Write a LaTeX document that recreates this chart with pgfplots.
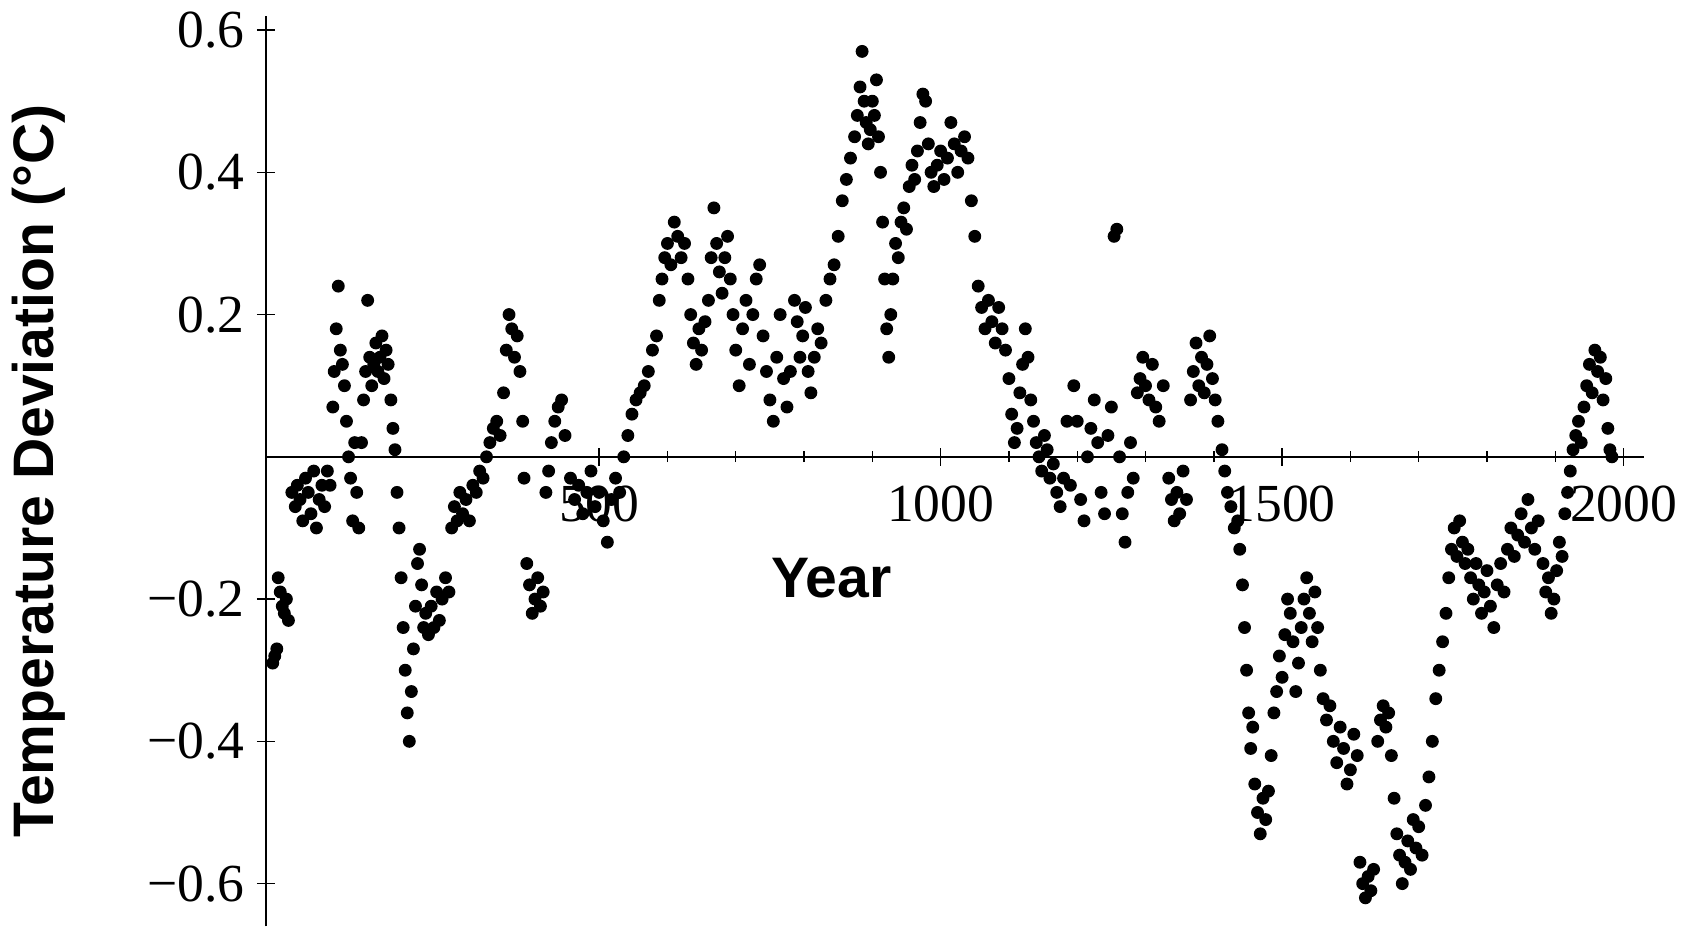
\documentclass[border=0pt]{standalone}
\usepackage{pgfplots}
\pgfplotsset{compat=1.18}
\usepackage{fontspec}
\setmainfont{Liberation Sans}
\newfontfamily\tickfont{Liberation Serif}
\begin{document}
\begin{tikzpicture}
\begin{axis}[
 scale only axis, width=386pt, height=255pt,
 xmin=12, xmax=2030, ymin=-0.66, ymax=0.62,
 axis x line=middle, axis y line=left,
 axis line style={-, thin},
 xtick={500,1000,1500,2000}, ytick={-0.6,-0.4,-0.2,0.2,0.4,0.6},
 xticklabels={500,1000,1500,2000},
 yticklabels={−0.6,−0.4,−0.2,0.2,0.4,0.6},
 /pgf/number format/assume math mode=true,
 minor x tick num=4, minor y tick num=3,
 tick style={black, thin}, major tick length=5pt, minor tick length=3pt,
 tick label style={font=\fontsize{15}{15}\selectfont\tickfont},
 xticklabel style={yshift=-2pt},
 xlabel={\textbf{Year}}, ylabel={\textbf{Temperature Deviation (°C)}},
 label style={font=\fontsize{16}{16}\selectfont},
 x label style={at={(axis cs:840,-0.17)}, anchor=center},
 y label style={at={(axis description cs:-0.165,0.5)}, anchor=center},
 clip=false,
]
\addplot[only marks, mark=*, mark size=1.6pt, black] coordinates {
(22,-0.29)(25,-0.28)(28,-0.27)(30,-0.17)(33,-0.19)(36,-0.21)(39,-0.22)(42,-0.20)(45,-0.23)
(50,-0.05)(55,-0.07)(58,-0.04)(62,-0.06)(66,-0.09)(70,-0.03)(74,-0.05)(78,-0.08)(82,-0.02)(86,-0.10)(90,-0.06)(94,-0.04)(98,-0.07)(102,-0.02)(106,-0.04)
(110,0.07)(112,0.12)(115,0.18)(118,0.24)(121,0.15)(124,0.13)(127,0.10)(130,0.05)(133,0.00)(136,-0.03)(139,-0.09)(142,0.02)(145,-0.05)(148,-0.10)
(152,0.02)(155,0.08)(158,0.12)(161,0.22)(164,0.14)(167,0.10)(170,0.13)(173,0.16)(176,0.12)(179,0.14)(182,0.17)(185,0.11)(188,0.15)(191,0.13)
(195,0.08)(198,0.04)(201,0.01)(204,-0.05)(207,-0.10)(210,-0.17)(213,-0.24)(216,-0.30)(219,-0.36)(222,-0.40)(225,-0.33)
(228,-0.27)(231,-0.21)(234,-0.15)(237,-0.13)(240,-0.18)(243,-0.24)(246,-0.22)(250,-0.25)(254,-0.21)(258,-0.24)(262,-0.19)(266,-0.23)(270,-0.20)(275,-0.17)(280,-0.19)
(284,-0.10)(288,-0.07)(292,-0.09)(296,-0.05)(300,-0.08)(305,-0.06)(310,-0.09)(315,-0.04)(320,-0.05)(325,-0.02)(330,-0.03)(335,0.00)(340,0.02)(345,0.04)(350,0.05)(355,0.03)
(360,0.09)(364,0.15)(368,0.20)(372,0.18)(376,0.14)(380,0.17)(384,0.12)(388,0.05)(390,-0.03)
(394,-0.15)(398,-0.18)(402,-0.22)(406,-0.20)(410,-0.17)(414,-0.21)(418,-0.19)
(422,-0.05)(426,-0.02)(430,0.02)(435,0.05)(440,0.07)(445,0.08)(450,0.03)
(458,-0.03)(464,-0.06)(470,-0.04)(476,-0.08)(482,-0.05)(488,-0.02)(494,-0.07)(500,-0.05)(506,-0.09)(512,-0.12)(518,-0.06)(524,-0.03)(530,-0.05)
(536,0.00)(542,0.03)(548,0.06)(554,0.08)(560,0.09)(566,0.10)(572,0.12)(578,0.15)(584,0.17)(588,0.22)(592,0.25)(596,0.28)(600,0.30)(605,0.27)(610,0.33)(615,0.31)(620,0.28)(625,0.30)
(630,0.25)(634,0.20)(638,0.16)(642,0.13)(646,0.18)(650,0.15)(655,0.19)
(660,0.22)(664,0.28)(668,0.35)(672,0.30)(676,0.26)(680,0.23)(684,0.28)(688,0.31)(692,0.25)(696,0.20)(700,0.15)
(705,0.10)(710,0.18)(715,0.22)(720,0.13)(725,0.20)(730,0.25)(735,0.27)(740,0.17)(745,0.12)(750,0.08)(755,0.05)(760,0.14)(765,0.20)(770,0.11)(775,0.07)(780,0.12)
(786,0.22)(790,0.19)(794,0.14)(798,0.17)(802,0.21)(806,0.12)(810,0.09)(815,0.14)(820,0.18)(825,0.16)
(832,0.22)(838,0.25)(844,0.27)(850,0.31)(856,0.36)(862,0.39)(868,0.42)(874,0.45)(878,0.48)(882,0.52)(885,0.57)(888,0.50)(891,0.47)(894,0.44)(897,0.46)(900,0.50)(903,0.48)(906,0.53)(909,0.45)
(912,0.40)(915,0.33)(918,0.25)(921,0.18)(924,0.14)(927,0.20)(930,0.25)(934,0.30)(938,0.28)(942,0.33)(946,0.35)(950,0.32)(954,0.38)(958,0.41)(962,0.39)(966,0.43)(970,0.47)(974,0.51)(978,0.50)(982,0.44)(986,0.40)(990,0.38)
(995,0.41)(1000,0.43)(1005,0.39)(1010,0.42)(1015,0.47)(1020,0.44)(1025,0.40)(1030,0.43)(1035,0.45)(1040,0.42)(1045,0.36)(1050,0.31)
(1055,0.24)(1060,0.21)(1065,0.18)(1070,0.22)(1075,0.19)(1080,0.16)(1085,0.21)(1090,0.18)(1095,0.15)
(1100,0.11)(1104,0.06)(1108,0.02)(1112,0.04)(1116,0.09)(1120,0.13)(1124,0.18)(1128,0.14)
(1132,0.08)(1136,0.05)(1140,0.02)(1144,0.00)(1148,-0.02)(1152,0.03)(1156,0.01)(1160,-0.03)(1165,-0.01)(1170,-0.05)
(1175,-0.07)(1180,-0.03)(1185,0.05)(1190,-0.04)(1195,0.10)(1200,0.05)(1205,-0.06)(1210,-0.09)(1215,0.00)(1220,0.04)(1225,0.08)(1230,0.02)(1235,-0.05)(1240,-0.08)(1245,0.03)(1250,0.07)
(1254,0.31)(1258,0.32)(1262,0.00)(1266,-0.08)(1270,-0.12)(1274,-0.05)(1278,0.02)(1282,-0.03)
(1288,0.09)(1292,0.11)(1296,0.14)(1300,0.10)(1305,0.08)(1310,0.13)(1315,0.07)(1320,0.05)(1326,0.10)
(1334,-0.03)(1338,-0.06)(1342,-0.09)(1346,-0.05)(1350,-0.08)(1355,-0.02)(1360,-0.06)
(1366,0.08)(1370,0.12)(1374,0.16)(1378,0.10)(1382,0.14)(1386,0.09)(1390,0.13)(1394,0.17)(1398,0.11)(1402,0.08)(1406,0.05)
(1412,0.01)(1416,-0.02)(1420,-0.05)(1425,-0.07)(1430,-0.10)(1435,-0.09)(1438,-0.13)
(1442,-0.18)(1445,-0.24)(1448,-0.30)(1451,-0.36)(1454,-0.41)(1457,-0.38)
(1460,-0.46)(1464,-0.50)(1468,-0.53)(1472,-0.48)(1476,-0.51)(1480,-0.47)(1484,-0.42)(1488,-0.36)
(1492,-0.33)(1496,-0.28)(1500,-0.31)(1504,-0.25)(1508,-0.20)(1512,-0.22)(1516,-0.26)(1520,-0.33)
(1524,-0.29)(1528,-0.24)(1532,-0.20)(1536,-0.17)(1540,-0.22)(1544,-0.26)(1548,-0.19)(1552,-0.24)(1556,-0.30)(1560,-0.34)(1565,-0.37)
(1570,-0.35)(1575,-0.40)(1580,-0.43)(1585,-0.38)(1590,-0.41)(1595,-0.46)(1600,-0.44)(1605,-0.39)(1610,-0.42)
(1614,-0.57)(1618,-0.60)(1622,-0.62)(1626,-0.59)(1630,-0.61)(1634,-0.58)
(1640,-0.40)(1644,-0.37)(1648,-0.35)(1652,-0.38)(1656,-0.36)(1660,-0.42)
(1664,-0.48)(1668,-0.53)(1672,-0.56)(1676,-0.60)(1680,-0.57)(1684,-0.54)(1688,-0.58)(1692,-0.51)(1696,-0.55)(1700,-0.52)(1705,-0.56)
(1710,-0.49)(1715,-0.45)(1720,-0.40)(1725,-0.34)(1730,-0.30)(1735,-0.26)(1740,-0.22)
(1744,-0.17)(1748,-0.13)(1752,-0.10)(1756,-0.14)(1760,-0.09)(1764,-0.12)(1768,-0.15)
(1772,-0.13)(1776,-0.17)(1780,-0.20)(1784,-0.15)(1788,-0.18)(1792,-0.22)(1796,-0.19)(1800,-0.16)(1805,-0.21)(1810,-0.24)(1815,-0.18)
(1820,-0.15)(1825,-0.19)(1830,-0.13)(1835,-0.10)(1840,-0.14)(1845,-0.11)(1850,-0.08)(1855,-0.12)(1860,-0.06)(1865,-0.10)(1870,-0.13)(1875,-0.09)
(1882,-0.15)(1886,-0.19)(1890,-0.17)(1894,-0.22)(1898,-0.20)(1902,-0.16)(1906,-0.12)(1910,-0.14)
(1914,-0.08)(1918,-0.05)(1922,-0.02)(1926,0.01)(1930,0.03)(1934,0.05)(1938,0.02)(1942,0.07)
(1946,0.10)(1950,0.13)(1954,0.09)(1958,0.15)(1962,0.12)(1966,0.14)(1970,0.08)(1974,0.11)
(1977,0.04)(1980,0.01)(1983,0.00)
};
\end{axis}
\end{tikzpicture}
\end{document}
